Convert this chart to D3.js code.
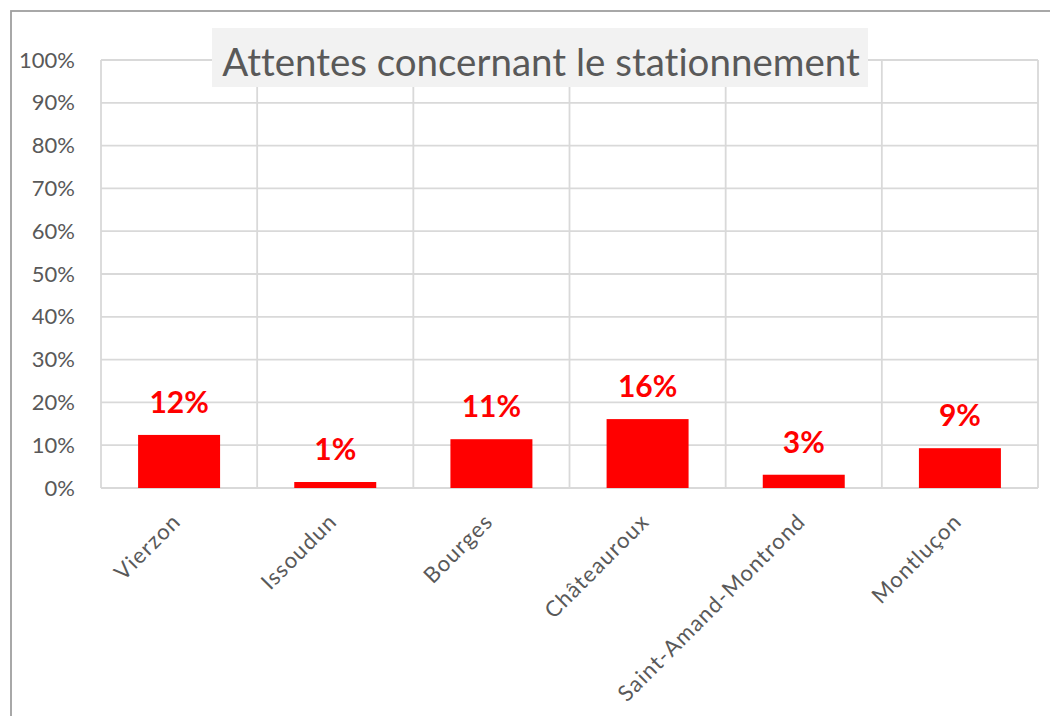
<!DOCTYPE html>
<html>
<head>
<meta charset="utf-8">
<script src="https://cdn.jsdelivr.net/npm/d3@7"></script>
<style>
  html, body { margin: 0; padding: 0; background: #fff; }
  svg { display: block; }
  text { font-variant-ligatures: none; font-feature-settings: "liga" 0; }
</style>
</head>
<body>
<svg id="chart" width="1050" height="716"></svg>
<script>
// Share of respondents per town
const categories = ["Vierzon", "Issoudun", "Bourges", "Châteauroux", "Saint-Amand-Montrond", "Montluçon"];
const values = [0.124, 0.014, 0.114, 0.161, 0.031, 0.093];
const yTicks = [0, 0.1, 0.2, 0.3, 0.4, 0.5, 0.6, 0.7, 0.8, 0.9, 1.0];
const title = "Attentes concernant le stationnement";

const svg = d3.select("#chart");
const W = 1050, H = 716;
const plot = { left: 101, top: 60, right: 1038, bottom: 488 };
const font = "Lato, 'Open Sans', sans-serif";
const textGray = "#595959";
const gridColor = "#d9d9d9";

// Outer chart frame (extends past the right and bottom edges)
svg.append("rect")
  .attr("x", 11).attr("y", 11)
  .attr("width", W).attr("height", H)
  .attr("fill", "#fff")
  .attr("stroke", "#9f9f9f")
  .attr("stroke-width", 1.8);

const x = d3.scaleBand().domain(categories).range([plot.left, plot.right]).padding(0);
const y = d3.scaleLinear().domain([0, 1]).range([plot.bottom, plot.top]);

// Horizontal gridlines
svg.append("g").selectAll("line").data(yTicks).join("line")
  .attr("x1", plot.left).attr("x2", plot.right)
  .attr("y1", d => y(d)).attr("y2", d => y(d))
  .attr("stroke", gridColor).attr("stroke-width", 1.8);

// Vertical gridlines at category boundaries
const bounds = categories.map(c => x(c)).concat([plot.right]);
svg.append("g").selectAll("line").data(bounds).join("line")
  .attr("x1", d => d).attr("x2", d => d)
  .attr("y1", plot.top).attr("y2", plot.bottom)
  .attr("stroke", gridColor).attr("stroke-width", 1.8);

// Y axis labels
const yAxis = d3.axisLeft(y).tickValues(yTicks).tickFormat(d3.format(".0%")).tickSize(0).tickPadding(26);
const gy = svg.append("g").attr("transform", `translate(${plot.left},0)`).call(yAxis);
gy.select(".domain").remove();
gy.selectAll("text")
  .attr("fill", textGray)
  .style("font-family", font)
  .style("font-size", "22px");

// Bars
const barW = x.bandwidth() * 0.525;
svg.append("g").selectAll("rect").data(values).join("rect")
  .attr("x", (d, i) => x(categories[i]) + (x.bandwidth() - barW) / 2)
  .attr("y", d => y(d))
  .attr("width", barW)
  .attr("height", d => y(0) - y(d))
  .attr("fill", "#ff0000");

// Value labels
svg.append("g").selectAll("text").data(values).join("text")
  .attr("x", (d, i) => x(categories[i]) + x.bandwidth() / 2)
  .attr("y", d => y(d) - 22)
  .attr("text-anchor", "middle")
  .attr("fill", "#ff0000")
  .style("font-family", font)
  .style("font-weight", "bold")
  .style("font-size", "30px")
  .text(d => d3.format(".0%")(d));

// Category labels, rotated
svg.append("g").selectAll("text").data(categories).join("text")
  .attr("transform", d => `translate(${x(d) + x.bandwidth() / 2 + 3},523) rotate(-45)`)
  .attr("text-anchor", "end")
  .attr("fill", textGray)
  .style("font-family", font)
  .style("font-size", "22px")
  .style("letter-spacing", "1.2px")
  .text(d => d);

// Title with shaded box
const tg = svg.append("g");
tg.append("rect")
  .attr("x", 212).attr("y", 28).attr("width", 656).attr("height", 59)
  .attr("fill", "#f2f2f2");
tg.append("text")
  .attr("x", 541).attr("y", 76)
  .attr("text-anchor", "middle")
  .attr("fill", textGray)
  .style("font-family", font)
  .style("font-size", "38.5px")
  .text(title);
</script>
</body>
</html>
